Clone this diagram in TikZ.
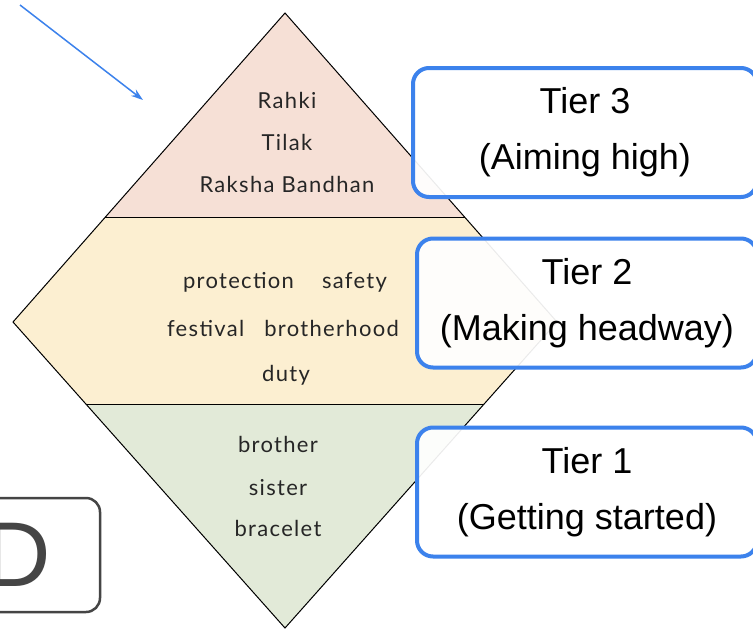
\documentclass[tikz,border=0pt]{standalone}
\usepackage{fontspec}
\setmainfont{Liberation Sans}
\newfontfamily\wordfont[LetterSpace=6]{Lato}
\usetikzlibrary{arrows.meta}
\newlength{\du}
\setlength{\du}{1pt}
\definecolor{tierblue}{rgb}{0.235000, 0.510000, 0.925000}
\definecolor{boxgrey}{rgb}{0.270000, 0.270000, 0.270000}
\definecolor{toppink}{rgb}{0.965000, 0.880000, 0.840000}
\definecolor{midcream}{rgb}{0.990000, 0.937000, 0.820000}
\definecolor{lowgreen}{rgb}{0.886000, 0.918000, 0.847000}
\tikzset{
  tierbox/.style={draw=tierblue, line width=4\du, rounded corners=16\du, fill=white,
    fill opacity=0.92, text opacity=1, align=center, minimum height=129\du,
    font=\fontsize{36}{56}\selectfont},
  wordline/.style={font=\wordfont\fontsize{22}{26}\selectfont, text=black!85, inner sep=0pt},
}

\begin{document}
\begin{tikzpicture}
\pgftransformxscale{1.000000}
\pgftransformyscale{-1.000000}
\useasboundingbox (0\du,0\du) rectangle (753\du,630\du);
\fill[white] (0\du,0\du) rectangle (753\du,630\du);
% diamond bands
\fill[toppink] (285\du,13\du)--(105.4\du,217\du)--(464.6\du,217\du)--cycle;
\fill[midcream] (105.4\du,217\du)--(13\du,322\du)--(85.9\du,404\du)--(484.1\du,404\du)--(557\du,322\du)--(464.6\du,217\du)--cycle;
\fill[lowgreen] (85.9\du,404\du)--(285\du,628\du)--(484.1\du,404\du)--cycle;
\draw[line width=1\du] (285\du,13\du)--(13\du,322\du)--(285\du,628\du)--(557\du,322\du)--cycle;
\draw[line width=1\du] (105.4\du,217\du)--(464.6\du,217\du);
\draw[line width=1\du] (85.9\du,404\du)--(484.1\du,404\du);
% words
\node[wordline] (rahki) at (287\du,100\du){Rahki};
\node[wordline] (tilak) at (287\du,142\du){Tilak};
\node[wordline] (raksha) at (287\du,184\du){Raksha Bandhan};
\node[wordline] (protection) at (285\du,282\du){protection\hspace{28\du}safety};
\node[wordline] (festival) at (283\du,328\du){festival\hspace{20\du}brotherhood};
\node[wordline] (duty) at (286\du,375\du){duty};
\node[wordline] (brother) at (278\du,444\du){brother};
\node[wordline] (sister) at (278\du,488\du){sister};
\node[wordline] (bracelet) at (278\du,528\du){bracelet};
% tier boxes
\node[tierbox, minimum width=344\du] (tierthree) at (585\du,132.5\du){Tier 3\\(Aiming high)};
\node[tierbox, minimum width=340\du] (tiertwo) at (587\du,303\du){Tier 2\\(Making headway)};
\node[tierbox, minimum width=340\du] (tierone) at (587\du,492\du){Tier 1\\(Getting started)};
% letter box
\node[draw=boxgrey, line width=2.5\du, rounded corners=14\du, minimum width=130\du, minimum height=114\du,
  text=boxgrey, font=\fontsize{92}{92}\selectfont] (dbox) at (35\du,555\du){\hspace*{-34\du}D};
% pointer
\coordinate (arrowtail) at (20\du,5\du);
\coordinate (arrowtip) at (143\du,100\du);
\draw[tierblue, line width=1.5\du, -{Stealth[length=12pt,width=8pt]}] (arrowtail)--(arrowtip);
\end{tikzpicture}
\end{document}
